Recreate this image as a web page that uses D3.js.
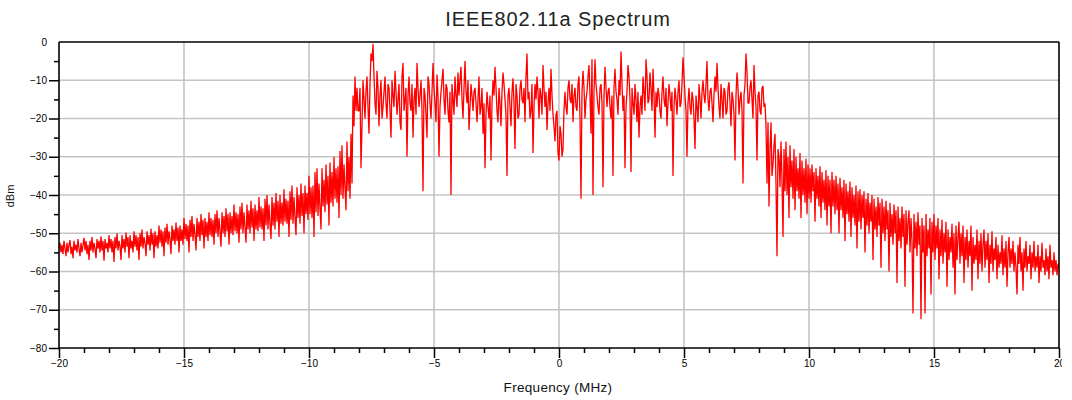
<!DOCTYPE html>
<html>
<head>
<meta charset="utf-8">
<script src="https://cdn.jsdelivr.net/npm/d3@7"></script>
<style>
  html, body { margin: 0; padding: 0; background: #fff; }
  svg { display: block; }
</style>
</head>
<body>
<svg id="chart" width="1072" height="400"></svg>
<script>
// ---- data ----
const chartTitle = "IEEE802.11a Spectrum";
const xLabel = "Frequency (MHz)";
const yLabel = "dBm";
const freqStart = -20;      // MHz, first sample
const freqStep = 0.04;      // MHz between samples
const xMajorTicks = [-20, -15, -10, -5, 0, 5, 10, 15, 20];
const yMajorTicks = [0, -10, -20, -30, -40, -50, -60, -70, -80];
const powerDbm = [
  // -20 MHz
  -54,-52.5,-55,-53,-55.5,-52,-54,-56,-52.5,-55,-53,-51.8,-55.5,-53.5,-56.5,-52,-54.5,-53,-55,-51.5,-54,-56,-52.5,-55,-53,
  // -19
  -51.2,-54.5,-52,-55.5,-53,-57,-52,-54.5,-51,-55,-52.5,-54,-56.5,-51.5,-54,-52,-55,-50.8,-54.5,-52,-57.2,-51.5,-54,-52.5,-55,
  // -18
  -50.5,-54,-51.5,-55,-52,-57.5,-51,-54,-50,-54.5,-52,-53.5,-57,-50.5,-54,-51.5,-55,-49.8,-53.5,-51,-56.5,-50.5,-54,-52,-55,
  // -17
  -49.5,-53.5,-50.5,-54.5,-51,-57,-50,-53.5,-49,-54,-51,-52.5,-56,-49.5,-53,-50.5,-54.5,-48.8,-53,-50,-56.5,-49.5,-53.5,-50.5,-54,
  // -16
  -48,-52.5,-49,-53.5,-49.5,-56,-48.5,-52.5,-47.5,-53,-49.5,-51.5,-55.5,-48,-52,-49,-53,-47.2,-52,-48.5,-55,-48,-52,-49,-53,
  // -15
  -46,-51.5,-47.5,-52,-48,-55,-46.5,-51,-45.5,-52,-47.5,-50.5,-54.5,-46,-51,-47,-52,-45,-50.5,-46.5,-54,-46,-51,-47,-52,
  // -14
  -44.5,-50.5,-46,-51,-46.5,-53,-45,-50,-44,-51,-46,-49.5,-53.5,-44.5,-50,-45.5,-51,-43.5,-49.5,-45,-53,-44.5,-50,-45.5,-50.5,
  // -13
  -42.5,-49.5,-44.5,-50,-45,-52.5,-43,-49,-42,-50,-44.5,-48.5,-52.5,-42.5,-49,-44,-50,-41.5,-48.5,-43.5,-52,-42.5,-49,-44,-49.5,
  // -12
  -40.5,-48.5,-43,-49,-43.5,-52,-41,-48,-40,-49,-42.5,-47.5,-51.5,-40.5,-48,-42,-49,-39.5,-47,-41.5,-51,-40,-47.5,-42,-48,
  // -11
  -38.5,-47,-41,-47.5,-41.5,-51,-39,-46.5,-37.5,-47.5,-40.5,-46,-50.5,-38,-46,-40,-47.5,-37,-45.5,-39.5,-50,-37.5,-45,-39.5,-46.5,
  // -10
  -35,-45,-38,-46,-37.5,-51,-34,-44.5,-33,-45.5,-37,-43.5,-49,-33,-43,-36,-44.5,-32,-42.5,-35,-48,-31.5,-42,-34,-43,
  // -9
  -30,-41,-33,-42,-32.5,-46,-28.5,-40,-27,-41,-32,-38,-44,-26,-39,-30,-41,-24,-37,-14,-22,-9,-18,-12,-18,
  // -8
  -18,-12,-33,-22,-10,-15,-20,-13,-9,-17,-24,-11,-3,-5,-0.5,-9,-16,-19,-7.5,-12,-22,-14,-10,-20,-17,
  // -7
  -13,-9,-16,-20,-11,-12,-18,-25,-10,-14,-17,-7.5,-13,-19,-15,-11,-21,-23,-9,-5.5,-18,-15,-12,-30,-14,
  // -6
  -9,-16,-18,-11,-25,-15,-12,-19,-5.5,-12,-17,-14,-10,-18,-39,-12,-14,-19,-25,-9,-11,-16,-20,-13,-5.5,
  // -5
  -12,-16,-21,-8.5,-14,-30,-17,-13,-10,-7,-15,-19,-11,-12,-18,-21,-13,-40,-11,-15,-19,-9,-14,-17,-8,
  // -4
  -14,-10,-6.5,-15,-20,-12,-5,-13,-16,-10,-23,-17,-11,-14,-18,-13,-12,-16,-21,-15,-9,-19,-17,-12,-24,
  // -3
  -16,-33,-19,-13,-17,-20,-14,-31,-16,-10,-14,-6.5,-12,-18,-21,-12,-16,-22,-13,-8,-11,-15,-19,-35,-14,
  // -2
  -12,-17,-22,-13,-9.5,-16,-28,-11,-14,-20,-19,-12,-10,-15,-16,-12,-21,-9,-3,-15,-13,-20,-18,-11,-29,
  // -1
  -17,-11,-15,-9,-13,-20,-12,-14,-19,-6,-12,-17,-13,-23,-16,-12,-18,-7,-14,-19,-22,-26,-19,-18,-29,
  // 0
  -31,-22,-24,-30,-28,-18,-13,-17,-19,-12,-10,-15,-16,-11,-21,-14,-12,-17,-18,-11,-9,-20,-41,-13,-7.5,
  // 1
  -12,-20,-15,-13,-9,-6,-14,-24,-4.5,-40,-13,-4.5,-11,-14,-17,-19,-12,-11,-16,-38,-14,-6.5,-12,-17,-13,
  // 2
  -12,-17,-20,-14,-35,-12,-7,-13,-15,-19,-10,-14,-2.5,-11,-18,-14,-33,-17,-13,-6,-9,-15,-34,-12,-16,
  // 3
  -19,-11,-15,-21,-13,-25,-17,-14,-19,-9,-13,-18,-4.5,-9,-16,-15,-8,-12,-18,-7,-14,-25,-13,-17,-12,
  // 4
  -14,-18,-20,-13,-9,-15,-17,-12,-22,-16,-11,-14,-18,-13,-35,-17,-12,-15,-19,-13,-10,-17,-16,-11,-4,
  // 5
  -9,-14,-18,-30,-16,-12,-17,-19,-13,-15,-20,-28,-14,-17,-21,-11,-15,-20,-13,-10,-14,-16,-11,-5,-15,
  // 6
  -18,-13,-12,-16,-21,-14,-9,-13,-5.5,-12,-17,-20,-11,-15,-20,-12,-13,-19,-18,-12,-10.5,-16,-22,-13,-15,
  // 7
  -19,-31,-14,-8,-12,-19,-15,-13,-18,-37,-14,-11,-3,-8,-16,-16,-12,-10,-15,-20,-6,-13,-17,-31,-14,
  // 8
  -13,-18,-19,-12,-11.5,-17,-16,-22,-37,-21,-43,-28,-21,-35,-32,-27,-24,-37,-56,-28,-30,-38,-26,-36,-51,
  // 9
  -28,-39,-26,-40,-30,-46,-27,-38,-31,-41,-28,-44,-30,-39,-33,-41,-29,-46,-31,-40,-33,-42,-30.5,-45,-32,
  // 10
  -41,-33,-42,-32,-39,-34,-47,-33,-41,-35,-43,-32.5,-46,-34,-42,-36,-44,-33.5,-48,-35,-43,-36,-50,-34,-43,
  // 11
  -36,-45,-35,-44,-37,-50,-35.5,-44,-38,-46,-36,-52,-37,-45,-39,-47,-36.5,-51,-38,-46,-40,-48,-37.5,-54,-39,
  // 12
  -47,-38.5,-49,-40,-46,-39,-55,-41,-48,-39.5,-50,-42,-47,-40,-57,-41,-49,-43,-51,-40.5,-48,-42,-59,-41,-50,
  // 13
  -43,-52,-41.5,-49,-44,-60,-42,-51,-45,-53,-42.5,-50,-44,-63,-43,-52,-46,-54,-43,-51,-45,-64,-44,-53,-47,
  // 14
  -44,-55,-46,-52,-71,-45,-54,-47,-56,-44.5,-53,-48,-72.5,-46,-55,-48,-71,-45,-56,-49,-54,-46,-66,-47,-55,
  // 15
  -45,-57,-48,-54,-46,-62,-49,-56,-46.5,-58,-50,-55,-47,-64,-49,-57,-51,-55,-47.5,-59,-50,-66,-48,-57,-51,
  // 16
  -47,-58,-50,-56,-48,-63,-51,-57,-49,-59,-52,-56,-48,-65,-51,-58,-53,-57,-49,-62,-52,-58,-50,-60,-53,
  // 17
  -49,-59,-52,-57,-50,-63,-53,-58,-49.5,-60,-54,-57,-51,-62,-53,-59,-55,-58,-50.5,-61,-54,-59,-52,-64,-55,
  // 18
  -51,-59,-54,-58,-52,-60,-55,-59,-66,-53,-58,-51,-60,-55,-65,-54,-59,-52,-60,-56,-58,-53,-62,-55,-59,
  // 19
  -52,-60,-56,-59,-53,-63,-56,-60,-52.5,-59,-57,-61,-54,-60,-56,-62,-53,-59,-57,-61,-55,-60,-57,-61,-58,
  // 20
  -59
];

// ---- layout ----
const W = 1072, H = 400;
const plot = { left: 59, right: 1059, top: 42, bottom: 348 };
const svg = d3.select("#chart");

const x = d3.scaleLinear().domain([-20, 20]).range([plot.left, plot.right]);
const y = d3.scaleLinear().domain([-80, 0]).range([plot.bottom, plot.top]);

const font = "'Liberation Sans', Arial, sans-serif";

svg.append("clipPath").attr("id", "pageclip")
  .append("rect").attr("x", 0).attr("y", 0).attr("width", 1062).attr("height", H);
svg.append("clipPath").attr("id", "plotclip")
  .append("rect").attr("x", plot.left).attr("y", plot.top)
  .attr("width", plot.right - plot.left).attr("height", plot.bottom - plot.top);

const root = svg.append("g").attr("clip-path", "url(#pageclip)");

// grid
const grid = root.append("g").attr("stroke", "#c4c4c4").attr("stroke-width", 1.6);
grid.selectAll("line.gx").data(xMajorTicks.filter(v => v > -20 && v < 20)).join("line")
  .attr("x1", d => x(d)).attr("x2", d => x(d))
  .attr("y1", plot.top).attr("y2", plot.bottom);
grid.selectAll("line.gy").data(yMajorTicks.filter(v => v > -80 && v < 0)).join("line")
  .attr("y1", d => y(d)).attr("y2", d => y(d))
  .attr("x1", plot.left).attr("x2", plot.right);

// spectrum trace
const line = d3.line()
  .x((d, i) => x(freqStart + i * freqStep))
  .y(d => y(d));
root.append("path")
  .datum(powerDbm)
  .attr("clip-path", "url(#plotclip)")
  .attr("fill", "none")
  .attr("stroke", "#ff0000")
  .attr("stroke-width", 1.3)
  .attr("stroke-linejoin", "bevel")
  .attr("d", line);

// frame top / right
root.append("line").attr("x1", plot.left).attr("x2", plot.right)
  .attr("y1", plot.top).attr("y2", plot.top).attr("stroke", "#000").attr("stroke-width", 1.6);
root.append("line").attr("x1", plot.right).attr("x2", plot.right)
  .attr("y1", plot.top).attr("y2", plot.bottom).attr("stroke", "#000").attr("stroke-width", 1.6);

// x axis
const xAxis = d3.axisBottom(x).tickValues(xMajorTicks).tickSize(10).tickPadding(2)
  .tickFormat(d3.format("d"));
const gx = root.append("g").attr("transform", `translate(0,${plot.bottom})`).call(xAxis);
const xMinor = d3.range(-20, 21, 1).filter(v => v % 5 !== 0);
const gxm = root.append("g").attr("transform", `translate(0,${plot.bottom})`)
  .call(d3.axisBottom(x).tickValues(xMinor).tickSize(5).tickFormat(""));
gxm.select(".domain").remove();

// y axis
const yAxis = d3.axisLeft(y).tickValues(yMajorTicks).tickSize(10).tickPadding(2)
  .tickFormat(d3.format("d"));
const gy = root.append("g").attr("transform", `translate(${plot.left},0)`).call(yAxis);
gy.selectAll(".tick").filter(d => d === 0).select("line").remove();
const yMinor = d3.range(-75, 0, 10);
const gym = root.append("g").attr("transform", `translate(${plot.left},0)`)
  .call(d3.axisLeft(y).tickValues(yMinor).tickSize(5).tickFormat(""));
gym.select(".domain").remove();

[gx, gxm, gy, gym].forEach(g => {
  g.selectAll(".domain").attr("stroke", "#000").attr("stroke-width", 1.6);
  g.selectAll(".tick line").attr("stroke", "#000").attr("stroke-width", 1.5);
  g.selectAll(".tick text").attr("fill", "#000")
    .style("font-family", font).style("font-size", "10px");
});
gx.select(".domain").attr("d", `M${plot.left},0H${plot.right}`);
gy.select(".domain").attr("d", `M0,${plot.bottom}V${plot.top}`);

// title
root.append("text")
  .attr("x", 558).attr("y", 26)
  .attr("text-anchor", "middle")
  .style("font-family", font).style("font-size", "20px")
  .style("letter-spacing", "0.9px")
  .attr("fill", "#222")
  .text(chartTitle);

// axis titles
root.append("text")
  .attr("x", 558).attr("y", 392)
  .attr("text-anchor", "middle")
  .style("font-family", font).style("font-size", "13.5px")
  .style("letter-spacing", "0.3px")
  .attr("fill", "#111")
  .text(xLabel);
root.append("text")
  .attr("transform", `translate(14,196) rotate(-90)`)
  .attr("text-anchor", "middle")
  .style("font-family", font).style("font-size", "11px")
  .attr("fill", "#111")
  .text(yLabel);
</script>
</body>
</html>
